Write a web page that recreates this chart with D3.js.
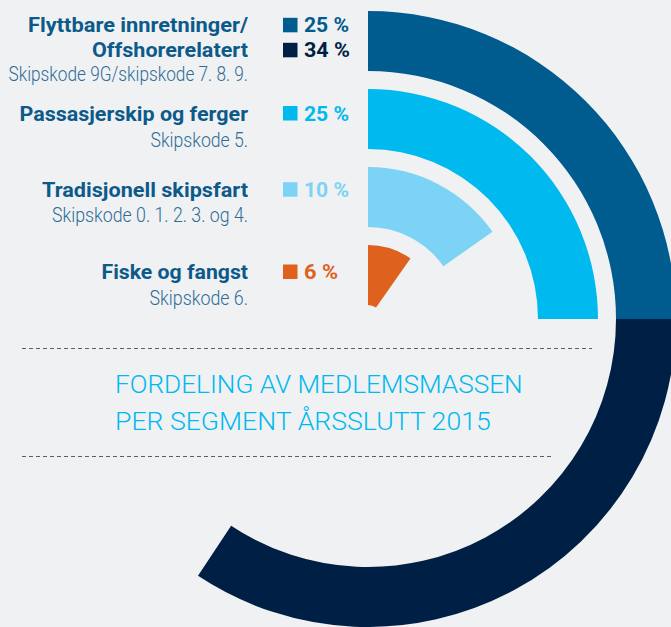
<!DOCTYPE html>
<html>
<head>
<meta charset="utf-8">
<script src="https://cdn.jsdelivr.net/npm/d3@7/dist/d3.min.js"></script>
<style>
  html, body { margin: 0; padding: 0; background: #eff1f3; }
  svg { display: block; }
</style>
</head>
<body>
<svg id="chart" width="671" height="627"></svg>
<script>
// ---- data ----
const segments = ["Flyttbare innretninger", "Offshorerelatert", "Passasjerskip og ferger", "Tradisjonell skipsfart", "Fiske og fangst"];
const values = [25, 34, 25, 10, 6];
const ringOf = [0, 0, 1, 2, 3];
const valueLabels = ["25 %", "34 %", "25 %", "10 %", "6 %"];
const colors = ["#005b8f", "#001f44", "#00b9ef", "#7dd3f5", "#de621d"];

const groupTitles = [["Flyttbare innretninger/", "Offshorerelatert"], ["Passasjerskip og ferger"], ["Tradisjonell skipsfart"], ["Fiske og fangst"]];
const groupCodes = ["Skipskode 9G/skipskode 7. 8. 9.", "Skipskode 5.", "Skipskode 0. 1. 2. 3. og 4.", "Skipskode 6."];
const titleLines = ["FORDELING AV MEDLEMSMASSEN", "PER SEGMENT ÅRSSLUTT 2015"];

// angular scale as drawn in the original infographic (small segments emphasised)
const angleDomain = [0, 6, 10, 25, 59];
const angleRangeDeg = [0, 35, 55, 90, 213.5];

// ---- layout ----
const svg = d3.select("#chart");
const W = 671, H = 627;
const cx = 368, cy = 319;

const angle = d3.scaleLinear().domain(angleDomain).range(angleRangeDeg.map(d => d * Math.PI / 180));
const ring = d3.scaleBand().domain([3, 2, 1, 0]).range([14, 308]).paddingInner(0.2308).paddingOuter(0);

// cumulative starts within each ring
const starts = [];
const acc = {};
values.forEach((v, i) => { const r = ringOf[i]; acc[r] = acc[r] || 0; starts.push(acc[r]); acc[r] += v; });

const arc = d3.arc()
  .innerRadius(d => ring(d.ring))
  .outerRadius(d => ring(d.ring) + ring.bandwidth())
  .startAngle(d => angle(d.start))
  .endAngle(d => angle(d.start + d.value));

const arcData = values.map((v, i) => ({ value: v, start: starts[i], ring: ringOf[i], color: colors[i], name: segments[i] }));

svg.append("g").attr("transform", `translate(${cx},${cy})`)
  .selectAll("path").data(arcData).join("path")
  .attr("d", arc)
  .attr("fill", d => d.color);

// ---- dashed separators ----
svg.append("line").attr("x1", 22).attr("x2", 592).attr("y1", 348.5).attr("y2", 348.5)
  .attr("stroke", "#5a5f66").attr("stroke-width", 1).attr("stroke-dasharray", "4,3");
svg.append("line").attr("x1", 22).attr("x2", 554).attr("y1", 456.5).attr("y2", 456.5)
  .attr("stroke", "#5a5f66").attr("stroke-width", 1).attr("stroke-dasharray", "4,3");

// ---- title ----
const titleBase = [393.3, 430];
const titleW = [407.7, 375.7];
svg.selectAll("text.title").data(titleLines).join("text")
  .attr("class", "title")
  .attr("x", 115).attr("y", (d, i) => titleBase[i])
  .attr("font-family", "Roboto, 'Noto Sans', sans-serif")
  .attr("font-weight", 300).attr("font-size", 26.5)
  .attr("fill", "#00b9ef")
  .attr("textLength", (d, i) => titleW[i]).attr("lengthAdjust", "spacingAndGlyphs")
  .text(d => d);

// ---- legend ----
const rightX = 248;
const titleBaselines = [[32.3, 57.3], [120.5], [196.7], [279]];
const titleWidths = [[220, 156], [228.5], [206], [146.5]];
const codeBaselines = [81, 146.5, 221.7, 305];
const codeWidths = [239.5, 97.5, 196, 98.5];
const font = "Roboto, 'Noto Sans', sans-serif";

groupTitles.forEach((lines, g) => {
  lines.forEach((t, j) => {
    svg.append("text").attr("x", rightX).attr("y", titleBaselines[g][j])
      .attr("text-anchor", "end").attr("font-family", font).attr("font-weight", 700)
      .attr("font-size", 20).attr("fill", "#0d5a8a")
      .attr("textLength", titleWidths[g][j]).attr("lengthAdjust", "spacingAndGlyphs")
      .text(t);
  });
  svg.append("text").attr("x", rightX).attr("y", codeBaselines[g])
    .attr("text-anchor", "end").attr("font-family", font).attr("font-weight", 300)
    .attr("font-size", 19.5).attr("fill", "#2e6c96")
    .attr("textLength", codeWidths[g]).attr("lengthAdjust", "spacingAndGlyphs")
    .text(groupCodes[g]);
});

// value labels with swatches
const valueBaselines = [32.3, 57.3, 120.5, 196.7, 279];
const valueWidths = [45, 46, 45, 45, 34];
valueLabels.forEach((lab, i) => {
  svg.append("rect").attr("x", 283).attr("y", valueBaselines[i] - 14.5)
    .attr("width", 14.5).attr("height", 14.5).attr("fill", colors[i]);
  svg.append("text").attr("x", 304).attr("y", valueBaselines[i])
    .attr("font-family", font).attr("font-weight", 700).attr("font-size", 20)
    .attr("fill", colors[i])
    .attr("textLength", valueWidths[i]).attr("lengthAdjust", "spacingAndGlyphs")
    .text(lab);
});
</script>
</body>
</html>
